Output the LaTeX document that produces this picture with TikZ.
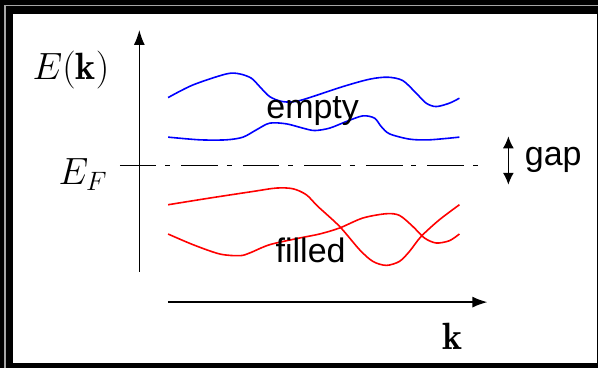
\RequirePackage{fix-cm}
\documentclass[tikz,border=0pt]{standalone}
\usepackage{amsmath, amssymb}
\usepackage{fontspec}
\newfontfamily\bandfont{Liberation Sans}
\usetikzlibrary{arrows.meta, positioning}

\begin{document}
\begin{tikzpicture}[
  x=1pt, y=-1pt,
  axis/.style={line width=1.4pt, -{Latex[length=15pt, width=11pt]}},
  band/.style={line width=1.6pt, smooth},
  mathlabel/.style={anchor=base, inner sep=0pt, font=\fontsize{38}{40}\selectfont},
  textlabel/.style={anchor=base, inner sep=0pt, font=\bandfont\fontsize{34}{36}\selectfont}
]
  % Fermi level height
  \def\fermi{165.5}

  % Frame
  \fill[black] (0,0) rectangle (599,368);
  \draw[gray!70, line width=1.5pt] (5,368) -- (5,5.5) -- (599,5.5);
  \fill[white] (13,14) rectangle (597.5,363);

  % Axes
  \coordinate (ybot) at (139.5,272);
  \coordinate (ytop) at (139.5,30);
  \coordinate (xleft) at (168,302.5);
  \coordinate (xright) at (488,302.5);
  \draw[axis] (ybot) -- (ytop);
  \draw[axis] (xleft) -- (xright);
  \node[mathlabel] (elabel) at (71,80) {$E(\mathbf{k})$};
  \node[mathlabel] (klabel) at (453,350) {$\mathbf{k}$};

  % Fermi level
  \coordinate (fleft) at (120,\fermi);
  \coordinate (fright) at (481,\fermi);
  \draw[line width=1.4pt, dash pattern=on 36.6pt off 9pt on 5pt off 11pt] (fleft) -- (fright);
  \node[mathlabel] (eflabel) at (83,185) {$E_F$};

  % Empty bands
  \draw[band, blue] plot coordinates {(168.3,97.7) (193.3,85) (226.7,74) (240,74)
    (251.7,78.3) (260,86.7) (270,96.7) (283,101.7) (300,100.7) (343.3,86.7)
    (370,79.3) (388.3,77.3) (403.3,80.7) (416.7,93.3) (426.7,103.3) (436.7,106.7)
    (450,103.3) (460,98.3)};
  \draw[band, blue] plot coordinates {(168.3,137.3) (200,140) (226.7,140) (243.3,137.3)
    (256.7,130) (270,123.3) (286.7,124) (303.3,128.3) (315,130.7) (330,128.3)
    (346.7,121.7) (363.3,116) (375,118.3) (381.7,126.7) (390,134) (410,139.3)
    (430,140) (460,137.3)};
  \node[textlabel] (empty) at (313,119) {empty};

  % Filled bands
  \draw[band, red] plot coordinates {(168.3,205) (210,198.3) (253.3,191.7) (276.7,188.3)
    (293.3,189) (306.7,195) (318.3,206.7) (340,226.7) (360,250) (373.3,261.7)
    (386.7,265.7) (400,261.7) (410,251.7) (421.7,236.7) (440,220) (460,205)};
  \draw[band, red] plot coordinates {(168.3,234.3) (193.3,245) (220,254.3) (240,256)
    (250,253.3) (270,245) (300,238.3) (320,234.3) (340,228.3) (363.3,218.3)
    (386.7,214) (400,215.7) (413.3,226.7) (425,238.3) (436.7,243.3) (450,241)
    (460,234.3)};
  \node[textlabel] (filled) at (311,263) {filled};

  % Gap
  \coordinate (gaptop) at (509,136.5);
  \coordinate (gapbot) at (509,185);
  \draw[line width=1.4pt, {Latex[length=12pt, width=11pt]}-{Latex[length=12pt, width=11pt]}]
    (gaptop) -- (gapbot);
  \node[textlabel] (gap) at (554,166) {gap};
\end{tikzpicture}
\end{document}
